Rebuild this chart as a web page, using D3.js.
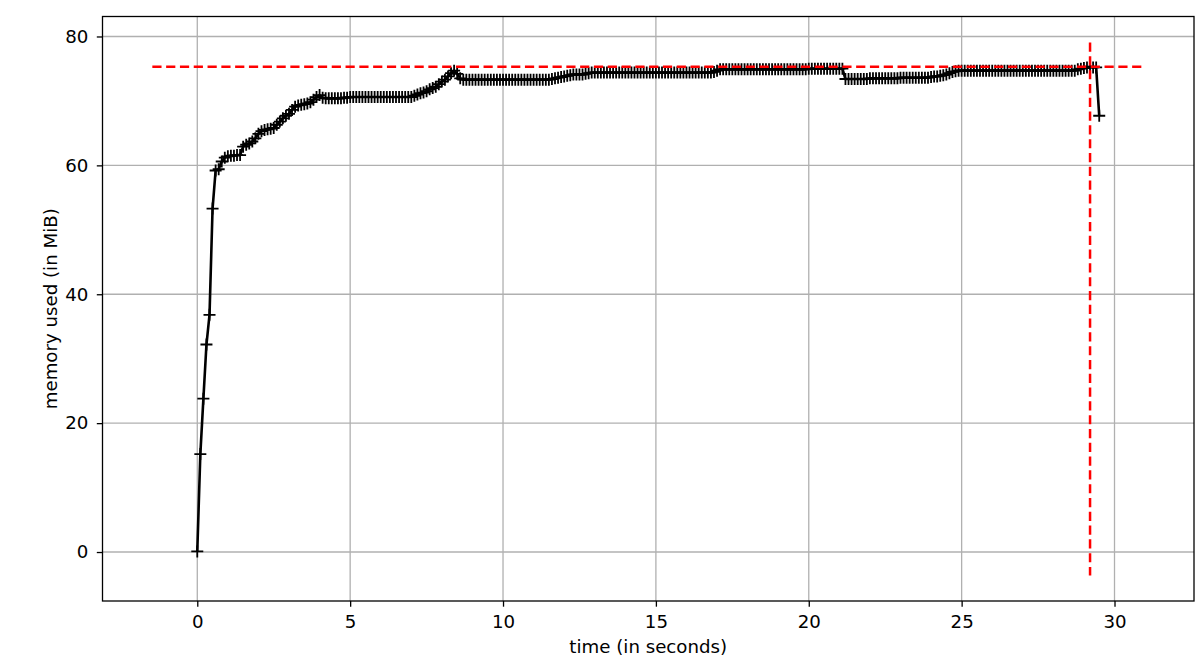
<!DOCTYPE html>
<html>
<head>
<meta charset="utf-8">
<script src="https://cdn.jsdelivr.net/npm/d3@7"></script>
<style>
  html, body { margin: 0; padding: 0; background: #fff; overflow: hidden; }
  svg { display: block; }
  svg text { font-family: "DejaVu Sans", sans-serif; }
</style>
</head>
<body>
<div id="chart"></div>
<script>
// sample times (s), one per row of seconds
const times = [
  0.0, 0.1, 0.2, 0.3, 0.4, 0.5, 0.6, 0.7, 0.8, 0.9,
  1.0, 1.1, 1.2, 1.3, 1.4, 1.5, 1.6, 1.7, 1.8, 1.9,
  2.0, 2.1, 2.2, 2.3, 2.4, 2.5, 2.6, 2.7, 2.8, 2.9,
  3.0, 3.1, 3.2, 3.3, 3.4, 3.5, 3.6, 3.7, 3.8, 3.9,
  4.0, 4.1, 4.2, 4.3, 4.4, 4.5, 4.6, 4.7, 4.8, 4.9,
  5.0, 5.1, 5.2, 5.3, 5.4, 5.5, 5.6, 5.7, 5.8, 5.9,
  6.0, 6.1, 6.2, 6.3, 6.4, 6.5, 6.6, 6.7, 6.8, 6.9,
  7.0, 7.1, 7.2, 7.3, 7.4, 7.5, 7.6, 7.7, 7.8, 7.9,
  8.0, 8.1, 8.2, 8.3, 8.4, 8.5, 8.6, 8.7, 8.8, 8.9,
  9.0, 9.1, 9.2, 9.3, 9.4, 9.5, 9.6, 9.7, 9.8, 9.9,
  10.0, 10.1, 10.2, 10.3, 10.4, 10.5, 10.6, 10.7, 10.8, 10.9,
  11.0, 11.1, 11.2, 11.3, 11.4, 11.5, 11.6, 11.7, 11.8, 11.9,
  12.0, 12.1, 12.2, 12.3, 12.4, 12.5, 12.6, 12.7, 12.8, 12.9,
  13.0, 13.1, 13.2, 13.3, 13.4, 13.5, 13.6, 13.7, 13.8, 13.9,
  14.0, 14.1, 14.2, 14.3, 14.4, 14.5, 14.6, 14.7, 14.8, 14.9,
  15.0, 15.1, 15.2, 15.3, 15.4, 15.5, 15.6, 15.7, 15.8, 15.9,
  16.0, 16.1, 16.2, 16.3, 16.4, 16.5, 16.6, 16.7, 16.8, 16.9,
  17.0, 17.1, 17.2, 17.3, 17.4, 17.5, 17.6, 17.7, 17.8, 17.9,
  18.0, 18.1, 18.2, 18.3, 18.4, 18.5, 18.6, 18.7, 18.8, 18.9,
  19.0, 19.1, 19.2, 19.3, 19.4, 19.5, 19.6, 19.7, 19.8, 19.9,
  20.0, 20.1, 20.2, 20.3, 20.4, 20.5, 20.6, 20.7, 20.8, 20.9,
  21.0, 21.1, 21.2, 21.3, 21.4, 21.5, 21.6, 21.7, 21.8, 21.9,
  22.0, 22.1, 22.2, 22.3, 22.4, 22.5, 22.6, 22.7, 22.8, 22.9,
  23.0, 23.1, 23.2, 23.3, 23.4, 23.5, 23.6, 23.7, 23.8, 23.9,
  24.0, 24.1, 24.2, 24.3, 24.4, 24.5, 24.6, 24.7, 24.8, 24.9,
  25.0, 25.1, 25.2, 25.3, 25.4, 25.5, 25.6, 25.7, 25.8, 25.9,
  26.0, 26.1, 26.2, 26.3, 26.4, 26.5, 26.6, 26.7, 26.8, 26.9,
  27.0, 27.1, 27.2, 27.3, 27.4, 27.5, 27.6, 27.7, 27.8, 27.9,
  28.0, 28.1, 28.2, 28.3, 28.4, 28.5, 28.6, 28.7, 28.8, 28.9,
  29.0, 29.1, 29.2, 29.3, 29.4, 29.5
];

// memory used (MiB) at each sample
const memory = [
  0.1, 15.2, 23.8, 32.2, 36.8, 53.3, 59.2, 59.4, 60.6, 61.2,
  61.4, 61.5, 61.5, 61.6, 61.6, 62.9, 63.2, 63.4, 63.7, 64.2,
  64.9, 65.3, 65.5, 65.6, 65.7, 65.8, 66.3, 66.8, 67.3, 67.7,
  68.0, 68.6, 69.1, 69.3, 69.4, 69.5, 69.6, 69.8, 70.2, 70.6,
  70.9, 70.5, 70.4, 70.4, 70.4, 70.4, 70.4, 70.4, 70.5, 70.5,
  70.6, 70.6, 70.6, 70.6, 70.6, 70.6, 70.6, 70.6, 70.6, 70.6,
  70.6, 70.6, 70.6, 70.6, 70.6, 70.6, 70.6, 70.6, 70.6, 70.6,
  70.6, 70.8, 71.0, 71.2, 71.3, 71.5, 71.8, 72.0, 72.2, 72.6,
  73.0, 73.3, 73.8, 74.3, 74.7, 74.2, 73.5, 73.3, 73.3, 73.3,
  73.3, 73.3, 73.3, 73.3, 73.3, 73.3, 73.3, 73.3, 73.3, 73.3,
  73.3, 73.3, 73.3, 73.3, 73.3, 73.3, 73.3, 73.3, 73.3, 73.3,
  73.3, 73.3, 73.3, 73.3, 73.3, 73.3, 73.4, 73.5, 73.6, 73.7,
  73.8, 73.9, 74.0, 74.1, 74.1, 74.1, 74.1, 74.2, 74.3, 74.4,
  74.4, 74.4, 74.4, 74.4, 74.4, 74.4, 74.4, 74.4, 74.4, 74.4,
  74.4, 74.4, 74.4, 74.4, 74.4, 74.4, 74.4, 74.4, 74.4, 74.4,
  74.4, 74.4, 74.4, 74.4, 74.4, 74.4, 74.4, 74.4, 74.4, 74.4,
  74.4, 74.4, 74.4, 74.4, 74.4, 74.4, 74.4, 74.4, 74.4, 74.5,
  74.7, 74.9, 74.9, 74.9, 74.9, 74.9, 74.9, 74.9, 74.9, 74.9,
  74.9, 74.9, 74.9, 74.9, 74.9, 74.9, 74.9, 74.9, 74.9, 74.9,
  74.9, 74.9, 74.9, 74.9, 74.9, 74.9, 74.9, 74.9, 74.9, 74.9,
  75.0, 75.0, 75.0, 75.0, 75.0, 75.0, 75.0, 75.0, 75.0, 75.0,
  75.0, 75.0, 73.4, 73.4, 73.4, 73.4, 73.4, 73.4, 73.4, 73.4,
  73.5, 73.5, 73.5, 73.5, 73.5, 73.5, 73.5, 73.5, 73.5, 73.5,
  73.6, 73.6, 73.6, 73.6, 73.6, 73.6, 73.6, 73.6, 73.6, 73.6,
  73.7, 73.8, 73.8, 73.9, 74.0, 74.1, 74.3, 74.5, 74.6, 74.7,
  74.7, 74.7, 74.7, 74.7, 74.7, 74.7, 74.7, 74.7, 74.7, 74.7,
  74.7, 74.7, 74.7, 74.7, 74.7, 74.7, 74.7, 74.7, 74.7, 74.7,
  74.7, 74.7, 74.7, 74.7, 74.7, 74.7, 74.7, 74.7, 74.7, 74.7,
  74.7, 74.7, 74.7, 74.7, 74.7, 74.7, 74.7, 74.7, 74.9, 75.0,
  75.1, 75.2, 75.3, 75.2, 75.2, 67.7
];

const xTicks = [0, 5, 10, 15, 20, 25, 30];
const yTicks = [0, 20, 40, 60, 80];
const xDomain = [-3.1, 32.6];
const yDomain = [-7.6, 83.1];

// peak marker lines: value and extent
const peakMem = 75.3;
const peakTime = 29.2;
const hlineX = [-1.47, 30.97];
const vlineY = [-3.66, 79.06];

const width = 1200, height = 661;
const margin = { top: 16.5, right: 6, bottom: 60, left: 102.5 };
const innerWidth = width - margin.left - margin.right;
const innerHeight = height - margin.top - margin.bottom;
const fontSize = "18.2px";

const points = times.map((t, i) => ({ t, m: memory[i] }));

const svg = d3.select("#chart").append("svg")
  .attr("width", width)
  .attr("height", height);

const innerChart = svg.append("g")
  .attr("transform", `translate(${margin.left}, ${margin.top})`);

const xScale = d3.scaleLinear().domain(xDomain).range([0, innerWidth]);
const yScale = d3.scaleLinear().domain(yDomain).range([innerHeight, 0]);

// grid
innerChart.append("g")
  .selectAll("line")
  .data(xTicks)
  .join("line")
    .attr("x1", d => xScale(d)).attr("x2", d => xScale(d))
    .attr("y1", 0).attr("y2", innerHeight)
    .attr("stroke", "#b0b0b0").attr("stroke-width", 1.3);

innerChart.append("g")
  .selectAll("line")
  .data(yTicks)
  .join("line")
    .attr("x1", 0).attr("x2", innerWidth)
    .attr("y1", d => yScale(d)).attr("y2", d => yScale(d))
    .attr("stroke", "#b0b0b0").attr("stroke-width", 1.3);

// memory line + "+" markers
const lineGenerator = d3.line()
  .x(d => xScale(d.t))
  .y(d => yScale(d.m));

innerChart.append("path")
  .datum(points)
  .attr("d", lineGenerator)
  .attr("fill", "none")
  .attr("stroke", "#000")
  .attr("stroke-width", 2.6)
  .attr("stroke-linejoin", "round");

innerChart.append("g")
  .selectAll("path")
  .data(points)
  .join("path")
    .attr("transform", d => `translate(${xScale(d.t)}, ${yScale(d.m)})`)
    .attr("d", "M-6,0H6M0,-6V6")
    .attr("stroke", "#000")
    .attr("stroke-width", 1.8);

// max memory markers
innerChart.append("line")
  .attr("x1", xScale(hlineX[0])).attr("x2", xScale(hlineX[1]))
  .attr("y1", yScale(peakMem)).attr("y2", yScale(peakMem))
  .attr("stroke", "red").attr("stroke-width", 2.5)
  .attr("stroke-dasharray", "9.2,4.6");

innerChart.append("line")
  .attr("x1", xScale(peakTime)).attr("x2", xScale(peakTime))
  .attr("y1", yScale(vlineY[1])).attr("y2", yScale(vlineY[0]))
  .attr("stroke", "red").attr("stroke-width", 2.5)
  .attr("stroke-dasharray", "9.2,4.6");

// axes
const xAxis = innerChart.append("g")
  .attr("transform", `translate(0, ${innerHeight})`)
  .call(d3.axisBottom(xScale)
    .tickValues(xTicks)
    .tickSize(5.7)
    .tickPadding(8.4)
    .tickFormat(d3.format("d"))
  );

const yAxis = innerChart.append("g")
  .call(d3.axisLeft(yScale)
    .tickValues(yTicks)
    .tickSize(5.7)
    .tickPadding(8.5)
    .tickFormat(d3.format("d"))
  );

[xAxis, yAxis].forEach(ax => {
  ax.select(".domain").remove();
  ax.selectAll(".tick line").attr("stroke", "#000").attr("stroke-width", 1.3);
  ax.selectAll(".tick text")
    .attr("fill", "#000")
    .style("font-family", "'DejaVu Sans', sans-serif")
    .style("font-size", fontSize);
});

// frame
innerChart.append("rect")
  .attr("width", innerWidth)
  .attr("height", innerHeight)
  .attr("fill", "none")
  .attr("stroke", "#000")
  .attr("stroke-width", 1.3);

// labels
svg.append("text")
  .attr("x", margin.left + innerWidth / 2)
  .attr("y", 653)
  .attr("text-anchor", "middle")
  .style("font-size", fontSize)
  .text("time (in seconds)");

svg.append("text")
  .attr("transform", `translate(56.5, ${margin.top + innerHeight / 2}) rotate(-90)`)
  .attr("text-anchor", "middle")
  .style("font-size", fontSize)
  .text("memory used (in MiB)");
</script>
</body>
</html>
